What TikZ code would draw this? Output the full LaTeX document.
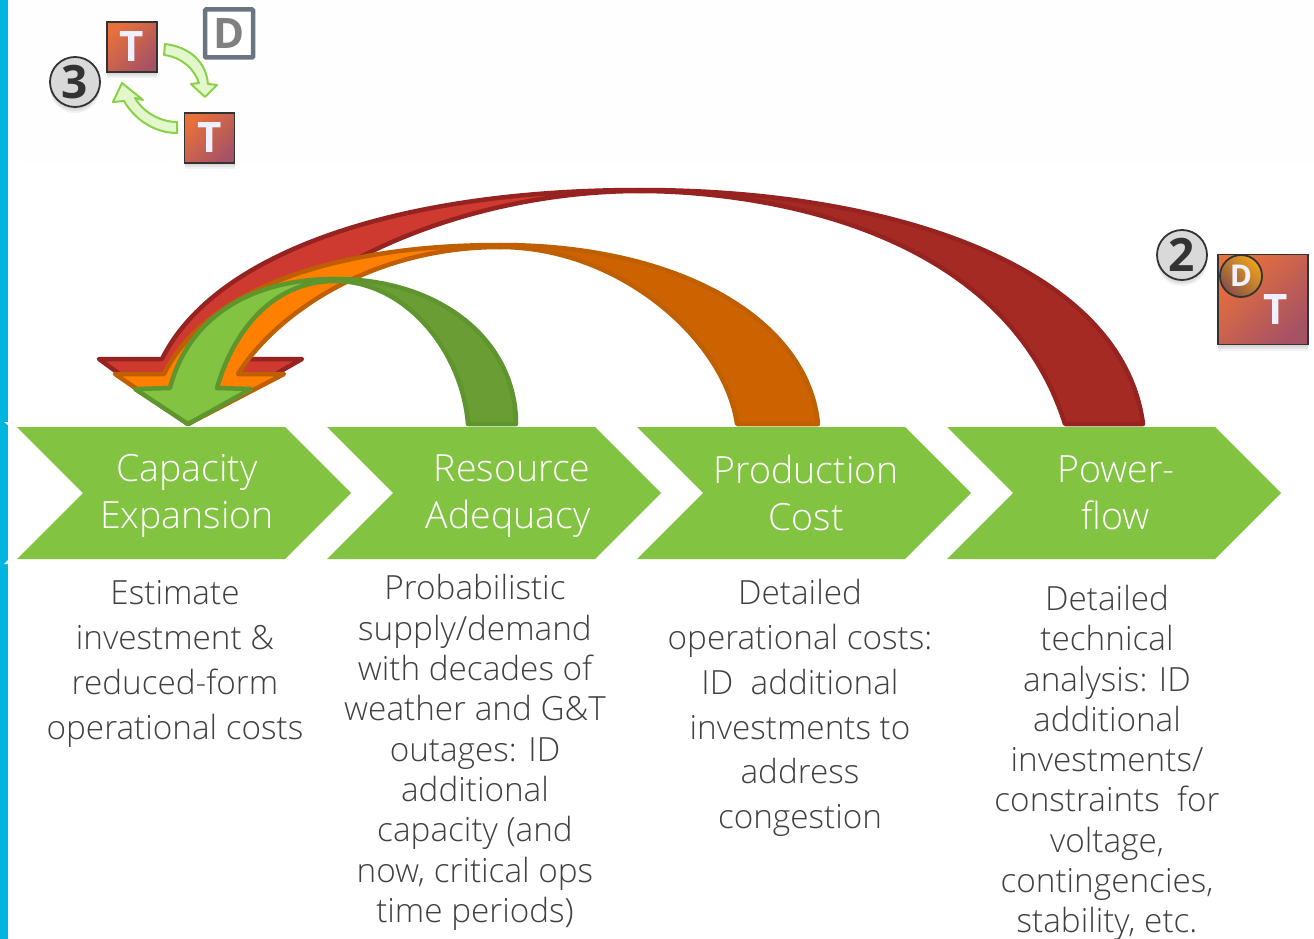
\documentclass[tikz,border=0pt]{standalone}
\usepackage{fontspec}
\setmainfont{Open Sans Light}
\newfontfamily\iconf{Open Sans}
\usetikzlibrary{shadows}
\definecolor{chev}{HTML}{82C341}
\definecolor{txt}{HTML}{404040}
\definecolor{redL}{HTML}{CF3A30}\definecolor{redD}{HTML}{A52A24}\definecolor{redS}{HTML}{962320}
\definecolor{orL}{HTML}{FF7F00}\definecolor{orD}{HTML}{CC6200}\definecolor{orS}{HTML}{BF5F00}
\definecolor{grL}{HTML}{82C341}\definecolor{grD}{HTML}{6A9E34}\definecolor{grS}{HTML}{5F952E}
\definecolor{sqA}{HTML}{E8703A}\definecolor{sqB}{HTML}{A65265}
\definecolor{dA}{HTML}{EDA31C}\definecolor{dB}{HTML}{8A5048}
\definecolor{smF}{HTML}{E2F8CC}\definecolor{smS}{HTML}{8AD048}
\definecolor{cyanband}{HTML}{00B6DE}
\tikzset{
  band/.style={line width=4.5pt,line join=round},
  chevlabel/.style={text=white,font=\fontsize{37.5}{47}\selectfont},
  body/.style={text=txt,align=center},
  bodywide/.style={body,font=\fontsize{33.3}{44.8}\selectfont},
  bodytight/.style={body,font=\fontsize{33.3}{40.3}\selectfont},
  shad/.style={drop shadow={opacity=.12,shadow xshift=0pt,shadow yshift=-2pt},
               drop shadow={opacity=.12,shadow xshift=0pt,shadow yshift=-4pt},
               drop shadow={opacity=.1,shadow xshift=0pt,shadow yshift=-6pt}},
  tsquare/.style={draw=black!80,line width=1.8pt,top color=sqA,bottom color=sqB,shading angle=45,shad},
  numcirc/.style={circle,draw=black!80,fill=black!15,line width=1.8pt,minimum size=50pt,inner sep=0pt,shad,
    text=black!80,font=\iconf\bfseries\fontsize{46}{46}\selectfont},
  tletter/.style={text=white!94!blue,font=\iconf\bfseries\fontsize{42}{42}\selectfont,inner sep=0pt},
  smarrow/.style={draw=smS,fill=smF,line width=2pt,line join=round}
}
\begin{document}
\begin{tikzpicture}[x=1pt,y=-1pt]
\useasboundingbox (0,0) rectangle (1314,939);
\fill[white] (0,0) rectangle (1314,939);
\fill[black!0.5] (8,0) rectangle (1314,163);
\fill[cyanband] (0,0) rectangle (7.7,939);
\fill[white] (4,422) -- (8,422) -- (8,425) -- cycle;
\fill[white] (4,564) -- (8,560) -- (8,564) -- cycle;

% chevrons
\foreach \dx in {0,310,620,930}{
  \fill[chev] (17+\dx,427) -- (285+\dx,427) -- (351+\dx,493) -- (285+\dx,559) -- (17+\dx,559) -- (83+\dx,493) -- cycle;
}

% red arrow
\draw[band,draw=redS,fill=redD] (640,190) .. controls (900,190) and (1123,270) .. (1143,424) -- (1065,424)
   .. controls (1000,218) and (740,191) .. (640,191) -- cycle;
\draw[band,draw=redS,fill=redL] (640,190) .. controls (400,190) and (215,252) .. (162,359) -- (99,359) -- (188,424) -- (302,359) -- (243,359)
   .. controls (295,265) and (470,191) .. (640,191) -- cycle;
% orange arrow
\draw[band,draw=orS,fill=orD] (500,245) .. controls (680,245) and (808,320) .. (818,424) -- (737,424)
   .. controls (725,340) and (620,247) .. (500,247) -- cycle;
\draw[band,draw=orS,fill=orL] (500,245) .. controls (340,245) and (207,287) .. (164,374) -- (115,374) -- (188,424) -- (284,374) -- (238,374)
   .. controls (275,315) and (370,247) .. (500,247) -- cycle;
% green arrow
\draw[band,draw=grS,fill=grD] (335,279) .. controls (440,279) and (516,340) .. (516,424) -- (468,424)
   .. controls (462,350) and (405,281) .. (335,281) -- cycle;
\draw[band,draw=grS,fill=grL] (335,279) .. controls (245,279) and (187,322) .. (170,388) -- (135,389) -- (188,424) -- (251,389) -- (217,388)
   .. controls (232,335) and (270,281) .. (335,281) -- cycle;

% chevron labels
\node[chevlabel,align=center] (ce) at (187,496) {Capacity\\Expansion};
\node[chevlabel,align=right,anchor=east] (ra) at (594,496) {Resource\\Adequacy};
\node[chevlabel,align=center] (pc) at (806,493) {Production\\Cost};
\node[chevlabel,align=center] (pf) at (1116,493) {Power-\\flow};

% body text
\node[bodywide] (t1) at (175,664) {Estimate\\investment \&\\reduced-form\\operational costs};
\node[bodytight] (t2) at (475,752.5) {Probabilistic\\supply/demand\\with decades of\\weather and G\&T\\outages: ID\\additional\\capacity (and\\now, critical ops\\time periods)};
\node[bodywide] (t3) at (800,708) {Detailed\\operational costs:\\ID\ \ additional\\investments to\\address\\congestion};
\node[bodytight] (t4) at (1107,763) {Detailed\\technical\\analysis: ID\\additional\\investments/\\constraints\ \ for\\voltage,\\contingencies,\\stability, etc.};

% icon group top left
\node[draw={rgb,255:red,107;green,117;blue,128},fill=white,line width=4.5pt,minimum size=48pt,inner sep=0pt,
  text=black!50,font=\iconf\bfseries\fontsize{42}{42}\selectfont,rounded corners=1pt] (dsq) at (229,33.5) {D};
\node[tsquare,minimum size=50pt,inner sep=0pt] (t5) at (132,47) {};
\node[tletter] at (t5) {T};
\node[tsquare,minimum size=50pt,inner sep=0pt] (t6) at (209.5,138) {};
\node[tletter] at (t6) {T};
\node[numcirc] (n3) at (75,82) {3};
\draw[smarrow] (165,44) .. controls (190,47) and (206,62) .. (208,84) -- (217,85) -- (205,97) -- (191,84) -- (199,83)
   .. controls (195,70) and (182,57) .. (164,55) -- cycle;
\draw[smarrow] (177,122) .. controls (160,122) and (143,112) .. (135,98) -- (143,100) -- (122,83) -- (113,102) -- (124,101)
   .. controls (135,120) and (155,133) .. (177,133) -- cycle;

% icon right
\node[tsquare,minimum size=90pt,inner sep=0pt] (t7) at (1263,299.5) {};
\node[tletter] at (1276,310) {T};
\node[circle,draw=black!80,line width=1.8pt,minimum size=42pt,inner sep=0pt,top color=dA,bottom color=dB,shading angle=-45,
  text=white!94!blue,font=\iconf\bfseries\fontsize{30}{30}\selectfont] (d2) at (1241,276) {D};
\node[numcirc] (n2) at (1182,255) {2};
\end{tikzpicture}
\end{document}
